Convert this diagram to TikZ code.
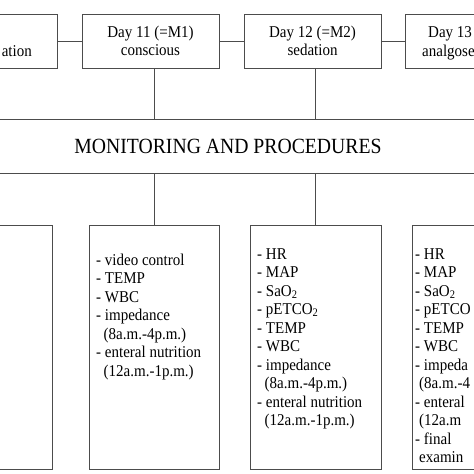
\documentclass[tikz,border=0pt]{standalone}
\usepackage{fontspec}
\usepackage{graphicx}
\setmainfont{Liberation Serif}
\newcommand{\talltext}[1]{\scalebox{1}[1.1]{#1}}
\begin{document}
\begin{tikzpicture}[x=1pt,y=-1pt,
  box/.style={draw=black!70, line width=1pt, inner sep=0pt},
  conn/.style={draw=black!70, line width=1pt},
  txt/.style={font=\fontsize{15}{18.5}\selectfont, inner sep=0pt},
  head/.style={font=\fontsize{19.7}{24}\selectfont},
  topbox/.style={box, minimum width=137pt, minimum height=54pt, align=center, txt},
  lowbox/.style={box, minimum width=130pt, minimum height=244pt}]
\useasboundingbox (0,0) rectangle (474,474);
\clip (0,0) rectangle (474,474);
% top row
\node[topbox] (t1) at (-11.5,41) {};
\node[topbox] (t2) at (150.5,41) {\talltext{Day 11 (=M1)}\\\talltext{conscious}};
\node[topbox] (t3) at (312.5,41) {\talltext{Day 12 (=M2)}\\\talltext{sedation}};
\node[topbox] (t4) at (473.5,41) {};
\node[txt, anchor=base east] (t1b) at (32,56.5) {\talltext{ation}};
\node[txt, anchor=base west] (t4a) at (428,37.5) {\talltext{Day 13}};
\node[txt, anchor=base west] (t4b) at (422,56.5) {\talltext{analgose}};
\draw[conn] (t1.east) -- (t2.west);
\draw[conn] (t2.east) -- (t3.west);
\draw[conn] (t3.east) -- (t4.west);
% monitoring band
\node[box, head, minimum width=496pt, minimum height=54pt] (mon) at (228,146) {\talltext{MONITORING AND PROCEDURES}};
% bottom row
\node[lowbox] (b1) at (-13,347) {};
\node[lowbox] (b2) at (154,347) {};
\node[lowbox, minimum width=131pt] (b3) at (315.5,347) {};
\node[lowbox] (b4) at (477,347) {};
% connectors
\draw[conn] (t2.south -| b2.north) -- (mon.north -| b2.north);
\draw[conn] (t3.south -| b3.north) -- (mon.north -| b3.north);
\draw[conn] (mon.south -| b2.north) -- (b2.north);
\draw[conn] (mon.south -| b3.north) -- (b3.north);
% lists
\foreach \t [count=\i] in {{- video control},{- TEMP},{- WBC},{- impedance},{\hspace*{7.5pt}(8a.m.-4p.m.)},{- enteral nutrition},{\hspace*{7.5pt}(12a.m.-1p.m.)}}
  \node[txt, anchor=base west] (b2l\i) at (96,{265+18.5*(\i-1)}) {\talltext{\t}};
\foreach \t [count=\i] in {{- HR},{- MAP},{- SaO\textsubscript{2}},{- pETCO\textsubscript{2}},{- TEMP},{- WBC},{- impedance},{\hspace*{7.5pt}(8a.m.-4p.m.)},{- enteral nutrition},{\hspace*{7.5pt}(12a.m.-1p.m.)}}
  \node[txt, anchor=base west] (b3l\i) at (257,{259+18.5*(\i-1)}) {\talltext{\t}};
\foreach \t [count=\i] in {{- HR},{- MAP},{- SaO\textsubscript{2}},{- pETCO},{- TEMP},{- WBC},{- impeda},{\hspace*{4pt}(8a.m.-4},{- enteral},{\hspace*{4pt}(12a.m},{- final},{\hspace*{4pt}examin}}
  \node[txt, anchor=base west] (b4l\i) at (415,{259+18.5*(\i-1)}) {\talltext{\t}};
\end{tikzpicture}
\end{document}
